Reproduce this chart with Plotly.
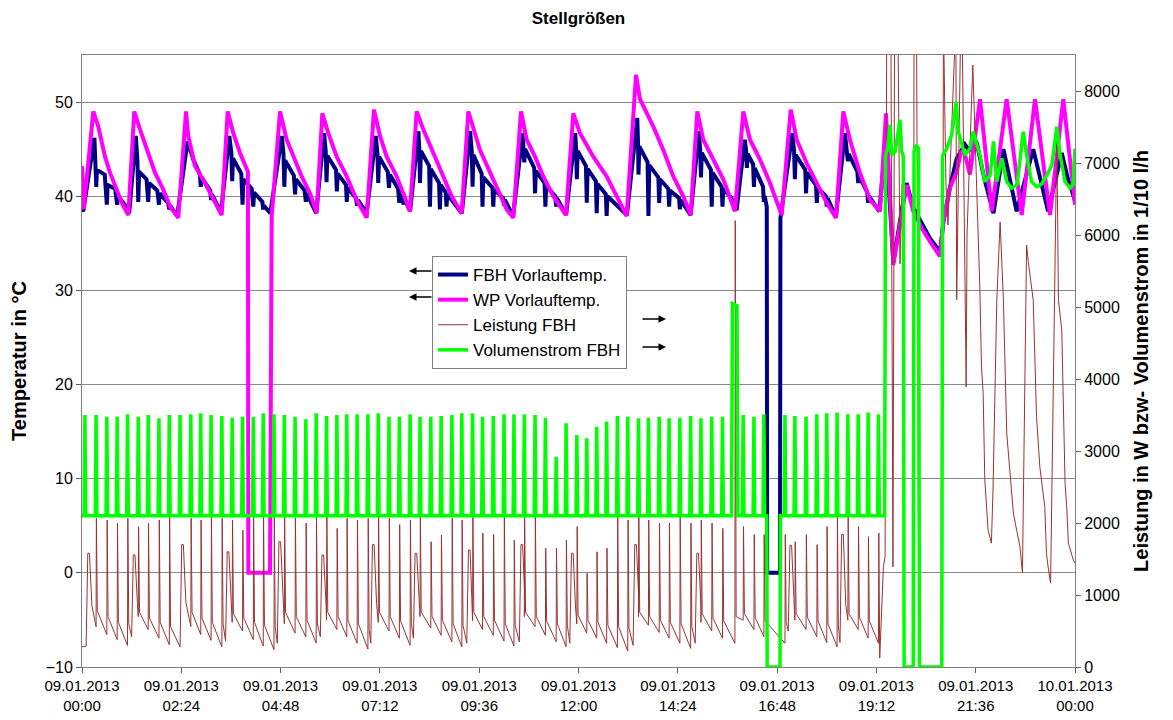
import plotly.graph_objects as go

# ---------------- data (hours since 09.01.2013 00:00) ----------------
tick_hours = [0, 2.4, 4.8, 7.2, 9.6, 12.0, 14.4, 16.8, 19.2, 21.6, 24.0]
tick_labels = ["09.01.2013<br>00:00", "09.01.2013<br>02:24", "09.01.2013<br>04:48",
               "09.01.2013<br>07:12", "09.01.2013<br>09:36", "09.01.2013<br>12:00",
               "09.01.2013<br>14:24", "09.01.2013<br>16:48", "09.01.2013<br>19:12",
               "09.01.2013<br>21:36", "10.01.2013<br>00:00"]
temp_ticks = [-10, 0, 10, 20, 30, 40, 50]
power_ticks = [0, 1000, 2000, 3000, 4000, 5000, 6000, 7000, 8000]

# FBH Vorlauftemp. (°C)
fbh_vorlauf = [
    (0.00, 38.6), (0.03, 38.4), (0.30, 46.2), (0.33, 43.5), (0.345, 41.0), (0.36, 42.8), (0.55, 42.3), (0.60, 39.1),
    (0.62, 41.2), (0.80, 40.8), (0.85, 39.1), (0.87, 40.0), (1.05, 39.0), (1.10, 38.5), (1.14, 38.2),
    (1.30, 46.4), (1.34, 43.7), (1.36, 39.4), (1.38, 42.6), (1.56, 41.8), (1.60, 39.4), (1.62, 41.4), (1.82, 40.6),
    (1.86, 39.1), (1.88, 40.3), (2.08, 39.3), (2.11, 38.6), (2.13, 39.0), (2.30, 37.9),
    (2.55, 45.8), (2.70, 43.8), (2.85, 42.3), (2.87, 41.0), (2.89, 42.0), (3.10, 40.6), (3.12, 39.6), (3.14, 40.2), (3.36, 38.3),
    (3.56, 46.4), (3.61, 44.6), (3.63, 41.6), (3.65, 44.0), (3.85, 42.4), (3.88, 39.1), (3.90, 41.8), (4.10, 40.8),
    (4.14, 38.9), (4.16, 40.4), (4.36, 39.4), (4.38, 38.6), (4.40, 39.0), (4.55, 38.2),
    (4.83, 46.4), (4.87, 44.5), (4.89, 41.0), (4.91, 43.8), (5.12, 42.2), (5.15, 40.2), (5.17, 41.8), (5.38, 40.6),
    (5.41, 39.4), (5.43, 40.3), (5.66, 38.2),
    (5.85, 46.7), (5.89, 44.8), (5.91, 41.5), (5.93, 44.3), (6.14, 42.8), (6.16, 40.5), (6.18, 42.4), (6.38, 41.2),
    (6.40, 39.4), (6.42, 40.9), (6.62, 39.8), (6.65, 39.0), (6.67, 39.6), (6.88, 38.2),
    (7.10, 46.4), (7.14, 44.6), (7.16, 41.4), (7.18, 44.2), (7.39, 42.6), (7.42, 40.9), (7.44, 42.3), (7.64, 40.8),
    (7.67, 39.3), (7.69, 40.6), (7.75, 40.2), (7.77, 39.1), (7.79, 39.8), (7.93, 38.4),
    (8.13, 46.9), (8.15, 45.2), (8.17, 41.4), (8.19, 44.8), (8.39, 43.2), (8.41, 38.9), (8.43, 42.9), (8.63, 41.4),
    (8.65, 38.6), (8.67, 41.2), (8.79, 40.4), (8.81, 38.9), (8.83, 40.2), (9.18, 38.2),
    (9.38, 46.9), (9.42, 44.8), (9.44, 41.0), (9.46, 44.4), (9.66, 42.4), (9.68, 38.9), (9.70, 42.0), (9.92, 40.9),
    (9.94, 38.9), (9.96, 40.7), (10.18, 39.8), (10.20, 39.0), (10.22, 39.6), (10.42, 37.9),
    (10.65, 46.7), (10.67, 45.4), (10.69, 43.6), (10.71, 45.0), (10.93, 43.0), (10.95, 40.3), (10.97, 42.7),
    (11.18, 41.4), (11.20, 38.9), (11.22, 41.1), (11.44, 40.0), (11.46, 38.9), (11.48, 39.8), (11.70, 38.0),
    (11.92, 46.7), (11.94, 45.2), (11.96, 41.8), (11.98, 44.8), (12.18, 43.2), (12.20, 39.3), (12.22, 42.9),
    (12.42, 41.6), (12.44, 38.2), (12.46, 41.3), (12.66, 40.2), (12.68, 37.9), (12.70, 40.0), (13.17, 38.0),
    (13.42, 48.3), (13.44, 45.5), (13.45, 42.3), (13.47, 45.3), (13.67, 43.6), (13.69, 37.9), (13.71, 43.3),
    (13.93, 42.0), (13.95, 39.3), (13.97, 41.8), (14.17, 40.8), (14.19, 38.9), (14.21, 40.6), (14.43, 39.8),
    (14.45, 38.6), (14.47, 39.6), (14.71, 38.0),
    (14.91, 46.9), (14.94, 45.0), (14.96, 42.0), (14.98, 44.6), (15.20, 42.8), (15.22, 38.9), (15.24, 42.5),
    (15.46, 41.0), (15.48, 38.9), (15.50, 40.8), (15.70, 39.8), (15.72, 39.3), (15.74, 39.6), (15.82, 38.5),
    (16.02, 46.0), (16.05, 44.9), (16.07, 43.0), (16.09, 44.5), (16.22, 43.4), (16.24, 41.0), (16.26, 43.0),
    (16.46, 41.0), (16.48, 39.4), (16.50, 40.0), (16.55, 38.9), (16.56, 0.0), (16.87, 0.0), (16.88, 37.7),
    (17.17, 46.7), (17.21, 44.8), (17.23, 41.8), (17.25, 44.4), (17.48, 42.8), (17.50, 40.3), (17.52, 42.5),
    (17.74, 41.2), (17.76, 39.3), (17.78, 40.9), (17.98, 40.0), (18.00, 38.9), (18.02, 39.8), (18.22, 37.8),
    (18.44, 46.7), (18.49, 44.8), (18.51, 43.7), (18.53, 44.5), (18.74, 42.6), (18.76, 41.4), (18.78, 42.2),
    (18.98, 40.4), (19.00, 39.3), (19.02, 40.0), (19.27, 38.4),
    (19.43, 46.0), (19.61, 33.0), (19.85, 39.5), (19.93, 41.4), (20.09, 38.8), (20.30, 37.0), (20.50, 35.5),
    (20.74, 34.1), (20.82, 37.3), (20.98, 41.0), (21.14, 44.0), (21.34, 45.5), (21.45, 44.8), (21.55, 46.3),
    (21.63, 45.6), (21.80, 42.0), (22.03, 38.2), (22.27, 45.0), (22.40, 42.5), (22.59, 38.4), (22.99, 45.0),
    (23.12, 42.5), (23.35, 38.4), (23.68, 44.6), (23.82, 42.0), (24.00, 39.5),
]

# WP Vorlauftemp. (°C)
wp_vorlauf = [
    (0.00, 43.2), (0.04, 38.6), (0.273, 49.0), (0.394, 47.4), (0.556, 44.2), (0.677, 42.5), (0.839, 40.7), (0.960, 39.3), (1.119, 38.0),
    (1.264, 49.0), (1.402, 47.1), (1.564, 44.9), (1.764, 42.5), (1.965, 40.7), (2.127, 38.9), (2.327, 37.7),
    (2.514, 49.0), (2.569, 46.4), (2.731, 43.2), (2.973, 41.4), (3.135, 40.0), (3.376, 38.0),
    (3.521, 49.0), (3.657, 46.7), (3.819, 44.6), (3.981, 42.8), (4.010, 42.6), (4.020, 0.0), (4.544, 0.0), (4.585, 37.9),
    (4.786, 49.0), (4.947, 46.0), (5.107, 44.2), (5.310, 42.1), (5.511, 40.3), (5.673, 38.2),
    (5.808, 48.8), (5.953, 46.7), (6.156, 44.2), (6.398, 42.1), (6.639, 39.6), (6.881, 37.7),
    (7.057, 49.2), (7.202, 46.4), (7.364, 44.2), (7.606, 42.1), (7.766, 40.3), (7.927, 38.4),
    (8.089, 49.0), (8.249, 47.1), (8.491, 44.6), (8.733, 42.1), (8.935, 40.0), (9.177, 38.2),
    (9.337, 49.0), (9.619, 44.9), (9.861, 42.5), (10.103, 40.0), (10.265, 38.6), (10.424, 37.7),
    (10.610, 49.0), (10.748, 46.0), (10.949, 44.2), (11.149, 42.1), (11.391, 40.0), (11.698, 38.0),
    (11.874, 48.8), (12.036, 46.7), (12.358, 44.2), (12.682, 42.1), (12.923, 40.0), (13.165, 37.9),
    (13.390, 52.9), (13.486, 50.3), (13.808, 47.4), (14.050, 44.9), (14.291, 42.1), (14.533, 40.0), (14.712, 38.0),
    (14.871, 49.0), (15.016, 46.0), (15.258, 43.9), (15.500, 41.8), (15.782, 38.4),
    (15.983, 49.0), (16.145, 46.0), (16.387, 43.9), (16.628, 41.4), (16.911, 38.0),
    (17.129, 49.2), (17.274, 46.0), (17.516, 43.5), (17.757, 41.4), (17.999, 39.3), (18.224, 37.7),
    (18.400, 49.0), (18.560, 46.0), (18.800, 42.5), (19.050, 39.6), (19.287, 38.4),
    (19.432, 48.8), (19.608, 32.7), (19.850, 39.1), (19.932, 41.2), (20.092, 38.4), (20.295, 36.6), (20.495, 35.2),
    (20.737, 33.6), (20.817, 37.3), (20.979, 40.9), (21.141, 42.6), (21.250, 44.8), (21.342, 44.4), (21.462, 42.3),
    (21.704, 50.3), (21.987, 38.4), (22.349, 50.3), (22.712, 38.0), (23.033, 50.3), (23.396, 38.0), (23.717, 50.3),
    (24.000, 39.1),
]

# Leistung FBH (W): regular events (time, kind s=spike/h=hump, value before, peak, value after)
leistung_start = (0.0, 280)
leistung_events = [
    (0.10, 'h', 290, 1580, 850), (0.34, 's', 560, 2065, 780), (0.60, 's', 450, 2042, 700), (0.85, 's', 380, 1996, 620),
    (1.10, 's', 300, 2065, 600), (1.20, 'h', 420, 1556, 880), (1.36, 's', 700, 1949, 760), (1.60, 's', 520, 1996, 680),
    (1.86, 's', 400, 2042, 620), (2.11, 's', 310, 2088, 560), (2.37, 'h', 280, 1700, 900), (2.63, 's', 560, 2065, 760),
    (2.87, 's', 450, 2042, 680), (3.12, 's', 370, 2088, 620), (3.38, 's', 280, 2065, 600), (3.47, 'h', 360, 1600, 860),
    (3.63, 's', 620, 2042, 740), (3.88, 's', 500, 1900, 680), (4.14, 's', 380, 2088, 620), (4.38, 's', 290, 2100, 580),
    (4.64, 's', 240, 2088, 560), (4.72, 'h', 330, 1740, 880), (4.89, 's', 600, 2088, 760), (5.15, 's', 470, 2070, 700),
    (5.41, 's', 417, 2000, 650), (5.66, 's', 333, 2088, 600), (5.76, 'h', 420, 1556, 850), (5.91, 's', 650, 2088, 760),
    (6.16, 's', 520, 1926, 700), (6.40, 's', 420, 2065, 640), (6.65, 's', 330, 2042, 600), (6.91, 's', 250, 2065, 520),
    (6.98, 'h', 330, 1700, 880), (7.16, 's', 620, 2088, 760), (7.42, 's', 500, 2065, 700), (7.67, 's', 400, 1980, 640),
    (7.93, 's', 300, 2042, 600), (8.01, 'h', 400, 1579, 860), (8.17, 's', 700, 2088, 760), (8.43, 's', 540, 1740, 700),
    (8.68, 's', 440, 1833, 650), (8.94, 's', 350, 2065, 600), (9.18, 's', 280, 2042, 580), (9.30, 'h', 330, 1625, 850),
    (9.44, 's', 640, 2088, 760), (9.68, 's', 520, 1860, 700), (9.94, 's', 440, 1840, 650), (10.20, 's', 360, 2088, 600),
    (10.44, 's', 290, 1760, 580), (10.57, 'h', 350, 1700, 860), (10.69, 's', 700, 2088, 760), (10.95, 's', 560, 2088, 700),
    (11.20, 's', 440, 1650, 640), (11.46, 's', 350, 1650, 600), (11.70, 's', 280, 1760, 580), (11.79, 'h', 330, 1580, 820),
    (11.96, 's', 600, 1950, 720), (12.20, 's', 470, 1300, 650), (12.44, 's', 400, 1600, 620), (12.68, 's', 330, 1650, 580),
    (12.94, 's', 270, 2088, 560), (13.19, 's', 220, 2042, 540), (13.32, 'h', 300, 1700, 880), (13.45, 's', 700, 2088, 760),
    (13.69, 's', 580, 2042, 700), (13.95, 's', 480, 2000, 650), (14.19, 's', 400, 2000, 620), (14.45, 's', 330, 2088, 600),
    (14.71, 's', 260, 2000, 560), (14.82, 'h', 330, 1580, 840), (14.96, 's', 620, 2042, 740), (15.22, 's', 500, 2000, 680),
    (15.48, 's', 400, 1926, 640), (15.78, 's', 330, 6200, 700), (15.98, 's', 650, 1950, 740), (16.24, 's', 520, 1840, 690),
    (16.48, 's', 420, 1840, 640), (16.99, 's', 330, 1840, 620), (17.07, 'h', 500, 1690, 860), (17.23, 's', 650, 1740, 740),
    (17.50, 's', 520, 1840, 690), (17.76, 's', 420, 1700, 640), (18.00, 's', 340, 1950, 600), (18.25, 's', 280, 2088, 580),
    (18.32, 'h', 340, 1840, 860), (18.51, 's', 650, 2088, 740), (18.76, 's', 520, 1950, 690), (19.00, 's', 400, 1810, 640),
    (19.25, 's', 330, 1860, 125),
]
# Leistung FBH (W): irregular evening section
leistung_evening = [
    (19.37, 1393), (19.41, 1530), (19.45, 9000), (19.55, 9000), (19.60, 1390), (19.64, 9000), (19.72, 9000),
    (19.77, 5600), (19.82, 6700), (19.86, 6500), (19.87, 0), (20.09, 0), (20.11, 9000), (20.17, 9000), (20.23, 0),
    (20.79, 0), (20.82, 9000), (20.88, 6740), (20.93, 6140), (21.10, 9000), (21.12, 9000), (21.14, 5100),
    (21.24, 9000), (21.27, 9000), (21.37, 3890), (21.39, 6000), (21.53, 8360), (21.70, 5265), (21.74, 4170),
    (21.78, 3800), (21.82, 2600), (21.90, 1900), (21.98, 1720), (22.02, 2500), (22.11, 5100), (22.19, 6180),
    (22.27, 5100), (22.35, 3250), (22.47, 2415), (22.51, 2140), (22.59, 1900), (22.67, 1670), (22.73, 1305),
    (22.79, 4500), (22.83, 5860), (22.87, 5630), (22.99, 5100), (23.07, 3480), (23.15, 2780), (23.27, 2225),
    (23.31, 1580), (23.35, 1390), (23.41, 1165), (23.56, 7400), (23.60, 5100), (23.68, 4680), (23.76, 2550),
    (23.80, 2225), (23.84, 1720), (23.96, 1485), (24.00, 1445),
]

# Volumenstrom FBH (1/10 l/h): regular pulses (time, peak) on a base level
volumen_base = 2100
volumen_pulses = [
    (0.07, 3500), (0.34, 3500), (0.60, 3477), (0.85, 3477), (1.10, 3510), (1.36, 3477), (1.60, 3500), (1.86, 3454),
    (2.11, 3500), (2.37, 3500), (2.63, 3510), (2.87, 3524), (3.12, 3500), (3.38, 3486), (3.63, 3463), (3.88, 3477),
    (4.14, 3477), (4.38, 3524), (4.64, 3510), (4.89, 3500), (5.15, 3477), (5.41, 3440), (5.66, 3524), (5.91, 3486),
    (6.16, 3500), (6.40, 3510), (6.65, 3510), (6.91, 3510), (7.16, 3524), (7.42, 3477), (7.67, 3477), (7.93, 3510),
    (8.17, 3477), (8.43, 3477), (8.68, 3486), (8.94, 3500), (9.18, 3524), (9.44, 3524), (9.68, 3477), (9.94, 3486),
    (10.20, 3510), (10.44, 3510), (10.69, 3510), (10.95, 3500), (11.20, 3463), (11.46, 2921), (11.70, 3385),
    (11.96, 3222), (12.20, 3176), (12.44, 3338), (12.68, 3408), (12.94, 3486), (13.19, 3477), (13.45, 3454),
    (13.69, 3463), (13.95, 3477), (14.19, 3454), (14.45, 3463), (14.71, 3486), (14.96, 3454), (15.22, 3477),
    (15.48, 3477), (15.98, 3500), (16.24, 3477), (16.48, 3510), (16.99, 3500), (17.23, 3486), (17.50, 3477),
    (17.76, 3510), (18.00, 3524), (18.25, 3533), (18.51, 3510), (18.76, 3510), (19.00, 3533), (19.25, 3510),
]
# Volumenstrom FBH: irregular sections
volumen_irregular = [
    (15.70, 2100), (15.72, 5050), (15.83, 5020), (15.85, 2100),
    (16.55, 2100), (16.56, 0), (16.87, 0), (16.88, 2100),
    (19.40, 2100), (19.42, 7100), (19.47, 7200), (19.53, 7530), (19.57, 7110), (19.65, 7150), (19.77, 7600),
    (19.81, 7160), (19.85, 7100), (19.87, 0), (20.09, 0), (20.11, 7160), (20.16, 7250), (20.22, 7200), (20.24, 0),
    (20.78, 0), (20.80, 7100), (20.90, 7200), (21.02, 7390), (21.13, 7850), (21.18, 7435), (21.25, 7300),
    (21.34, 7110), (21.46, 7200), (21.54, 7435), (21.70, 7110), (21.82, 6740), (21.95, 6830), (22.03, 7300),
    (22.11, 6740), (22.23, 7065), (22.35, 6740), (22.47, 6650), (22.60, 6700), (22.75, 7435), (22.83, 7110),
    (22.95, 6740), (23.07, 6670), (23.18, 6700), (23.32, 6830), (23.44, 6970), (23.56, 7505), (23.64, 7110),
    (23.76, 6740), (23.88, 6650), (23.95, 6700), (24.00, 7200),
]

# ---------------- build polylines from the read values ----------------
def split(pairs):
    return [p[0] for p in pairs], [p[1] for p in pairs]

lst = [leistung_start]
for t, kind, before, peak, after in leistung_events:
    if kind == 's':
        lst += [(t, before), (t + 0.008, peak), (t + 0.03, after)]
    else:
        lst += [(t, before), (t + 0.04, peak), (t + 0.08, peak), (t + 0.14, after)]
lst += leistung_evening

vol = [(0.0, volumen_base)]
for t, peak in volumen_pulses:
    vol += [(t - 0.02, volumen_base), (t, peak), (t + 0.02, volumen_base)]
vol += volumen_irregular
vol.sort(key=lambda p: p[0])

FONT = "Liberation Sans, Arial, sans-serif"
fig = go.Figure()
x, y = split(fbh_vorlauf)
fig.add_trace(go.Scatter(x=x, y=y, mode="lines", name="FBH Vorlauftemp.", legendgroup="a",
                         line=dict(color="#000080", width=4)))
x, y = split(wp_vorlauf)
fig.add_trace(go.Scatter(x=x, y=y, mode="lines", name="WP Vorlauftemp.", legendgroup="b",
                         line=dict(color="#FF00FF", width=4)))
x, y = split(lst)
fig.add_trace(go.Scatter(x=x, y=y, mode="lines", name="Leistung FBH", legendgroup="c", yaxis="y2",
                         line=dict(color="#993333", width=1)))
x, y = split(vol)
fig.add_trace(go.Scatter(x=x, y=y, mode="lines", name="Volumenstrom FBH", legendgroup="d", yaxis="y2",
                         line=dict(color="#00FF00", width=3.5)))

# plot area in page pixels (the page body adds an 8px margin around the figure)
OFF = 8
L, R, T, B = 82, 1075, 55, 667
W, H = 1173 - 2 * OFF, 720 - 2 * OFF

def px(xp, yp):
    return (xp - L) / (R - L), (B - yp) / (B - T)

annots = []
for hx, hy, dx in [(409, 271, 24), (409, 297, 24), (666, 319, -25), (666, 347, -25)]:
    ax_, ay_ = px(hx, hy)
    annots.append(dict(x=ax_, y=ay_, xref="paper", yref="paper", ax=dx, ay=0, text="",
                       showarrow=True, arrowhead=2, arrowsize=1, arrowwidth=1.5, arrowcolor="black"))

lx, ly = px(432, 256)
fig.update_layout(
    width=W, height=H,
    margin=dict(l=L - OFF, r=W - (R - OFF), t=T - OFF, b=H - (B - OFF), pad=0, autoexpand=False),
    paper_bgcolor="white", plot_bgcolor="white",
    font=dict(family=FONT, size=14, color="black"),
    title=dict(text="<b>Stellgrößen</b>", x=((L + R) / 2 - OFF) / W, xanchor="center",
               y=1 - (18 - OFF) / H, yanchor="middle", font=dict(size=17, family=FONT)),
    showlegend=True,
    legend=dict(x=lx, y=ly, xanchor="left", yanchor="top", bgcolor="white", bordercolor="#808080", borderwidth=1,
                font=dict(size=17, family=FONT), tracegroupgap=0, traceorder="grouped"),
    xaxis=dict(range=[0, 24], tickmode="array", tickvals=tick_hours, ticktext=tick_labels, showgrid=False,
               zeroline=False, ticks="outside", ticklen=5, tickcolor="#606060", showline=True, linecolor="#808080",
               mirror=True, automargin=False, tickfont=dict(size=15, family=FONT)),
    yaxis=dict(range=[-10, 55], tickmode="array", tickvals=temp_ticks, showgrid=True, gridcolor="#8a8a8a",
               gridwidth=1, zeroline=False, ticks="outside", ticklen=5, tickcolor="#606060", showline=True,
               linecolor="#808080", automargin=False, tickfont=dict(size=16, family=FONT),
               title=dict(text="<b>Temperatur in °C</b>", font=dict(size=20, family=FONT))),
    yaxis2=dict(range=[0, 8500], overlaying="y", side="right", tickmode="array", tickvals=power_ticks,
                showgrid=False, zeroline=False, ticks="outside", ticklen=5, tickcolor="#606060", showline=True,
                linecolor="#808080", automargin=False, tickfont=dict(size=16, family=FONT),
                title=dict(text="<b>Leistung in W bzw- Volumenstrom in 1/10 l/h</b>",
                           font=dict(size=20, family=FONT))),
    annotations=annots,
)

fig.write_html("out.html")
